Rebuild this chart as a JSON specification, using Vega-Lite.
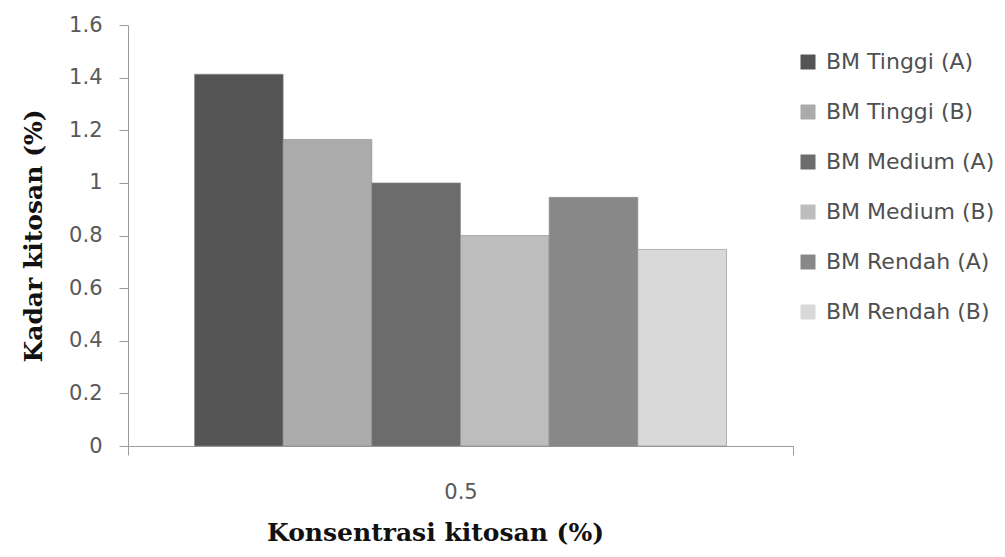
{
  "$schema": "https://vega.github.io/schema/vega-lite/v6.json",
  "width": 665,
  "height": 421,
  "autosize": "none",
  "padding": {"left": 128, "top": 25, "right": 212, "bottom": 111},
  "background": "white",
  "config": {
    "view": {"stroke": null},
    "font": "DejaVu Sans"
  },
  "data": {
    "values": [
      {"konsentrasi": "0.5", "series": "BM Tinggi (A)", "kadar": 1.413},
      {"konsentrasi": "0.5", "series": "BM Tinggi (B)", "kadar": 1.165},
      {"konsentrasi": "0.5", "series": "BM Medium (A)", "kadar": 1.0},
      {"konsentrasi": "0.5", "series": "BM Medium (B)", "kadar": 0.8},
      {"konsentrasi": "0.5", "series": "BM Rendah (A)", "kadar": 0.945},
      {"konsentrasi": "0.5", "series": "BM Rendah (B)", "kadar": 0.747}
    ]
  },
  "mark": {"type": "bar", "stroke": "#8a8a8a", "strokeWidth": 0.6},
  "encoding": {
    "x": {
      "field": "konsentrasi",
      "type": "nominal",
      "scale": {"paddingInner": 0, "paddingOuter": 0},
      "axis": {
        "title": "Konsentrasi kitosan (%)",
        "titleFont": "DejaVu Serif",
        "titleFontWeight": "bold",
        "titleFontSize": 25,
        "titleColor": "#111111",
        "titlePadding": 18,
        "titleX": 307,
        "labelAngle": 0,
        "labelFont": "DejaVu Sans",
        "labelFontSize": 21,
        "labelColor": "#595959",
        "labelPadding": 26,
        "tickBand": "extent",
        "tickSize": 9,
        "tickColor": "#9a9a9a",
        "domainColor": "#9a9a9a",
        "grid": false
      }
    },
    "xOffset": {
      "field": "series",
      "type": "nominal",
      "sort": ["BM Tinggi (A)", "BM Tinggi (B)", "BM Medium (A)", "BM Medium (B)", "BM Rendah (A)", "BM Rendah (B)"],
      "scale": {"paddingInner": 0, "paddingOuter": 0.75}
    },
    "y": {
      "field": "kadar",
      "type": "quantitative",
      "scale": {"domain": [0, 1.6], "nice": false},
      "axis": {
        "title": "Kadar  kitosan (%)",
        "titleFont": "DejaVu Serif",
        "titleFontWeight": "bold",
        "titleFontSize": 25,
        "titleColor": "#111111",
        "titlePadding": 22,
        "values": [0, 0.2, 0.4, 0.6, 0.8, 1, 1.2, 1.4, 1.6],
        "format": ".1~f",
        "labelFont": "DejaVu Sans",
        "labelFontSize": 21,
        "labelColor": "#595959",
        "labelPadding": 17,
        "tickSize": 9,
        "tickColor": "#9a9a9a",
        "domainColor": "#9a9a9a",
        "grid": false
      }
    },
    "color": {
      "field": "series",
      "type": "nominal",
      "sort": ["BM Tinggi (A)", "BM Tinggi (B)", "BM Medium (A)", "BM Medium (B)", "BM Rendah (A)", "BM Rendah (B)"],
      "scale": {"range": ["#545454", "#ababab", "#6c6c6c", "#bdbdbd", "#888888", "#d9d9d9"]},
      "legend": {
        "title": null,
        "orient": "none",
        "legendX": 669,
        "legendY": 26,
        "padding": 0,
        "symbolType": "square",
        "symbolSize": 225,
        "symbolStrokeWidth": 0,
        "symbolOpacity": 1,
        "labelFont": "DejaVu Sans",
        "labelFontSize": 22,
        "labelColor": "#505050",
        "labelOffset": 7,
        "rowPadding": 28,
        "labelLimit": 300
      }
    }
  }
}
